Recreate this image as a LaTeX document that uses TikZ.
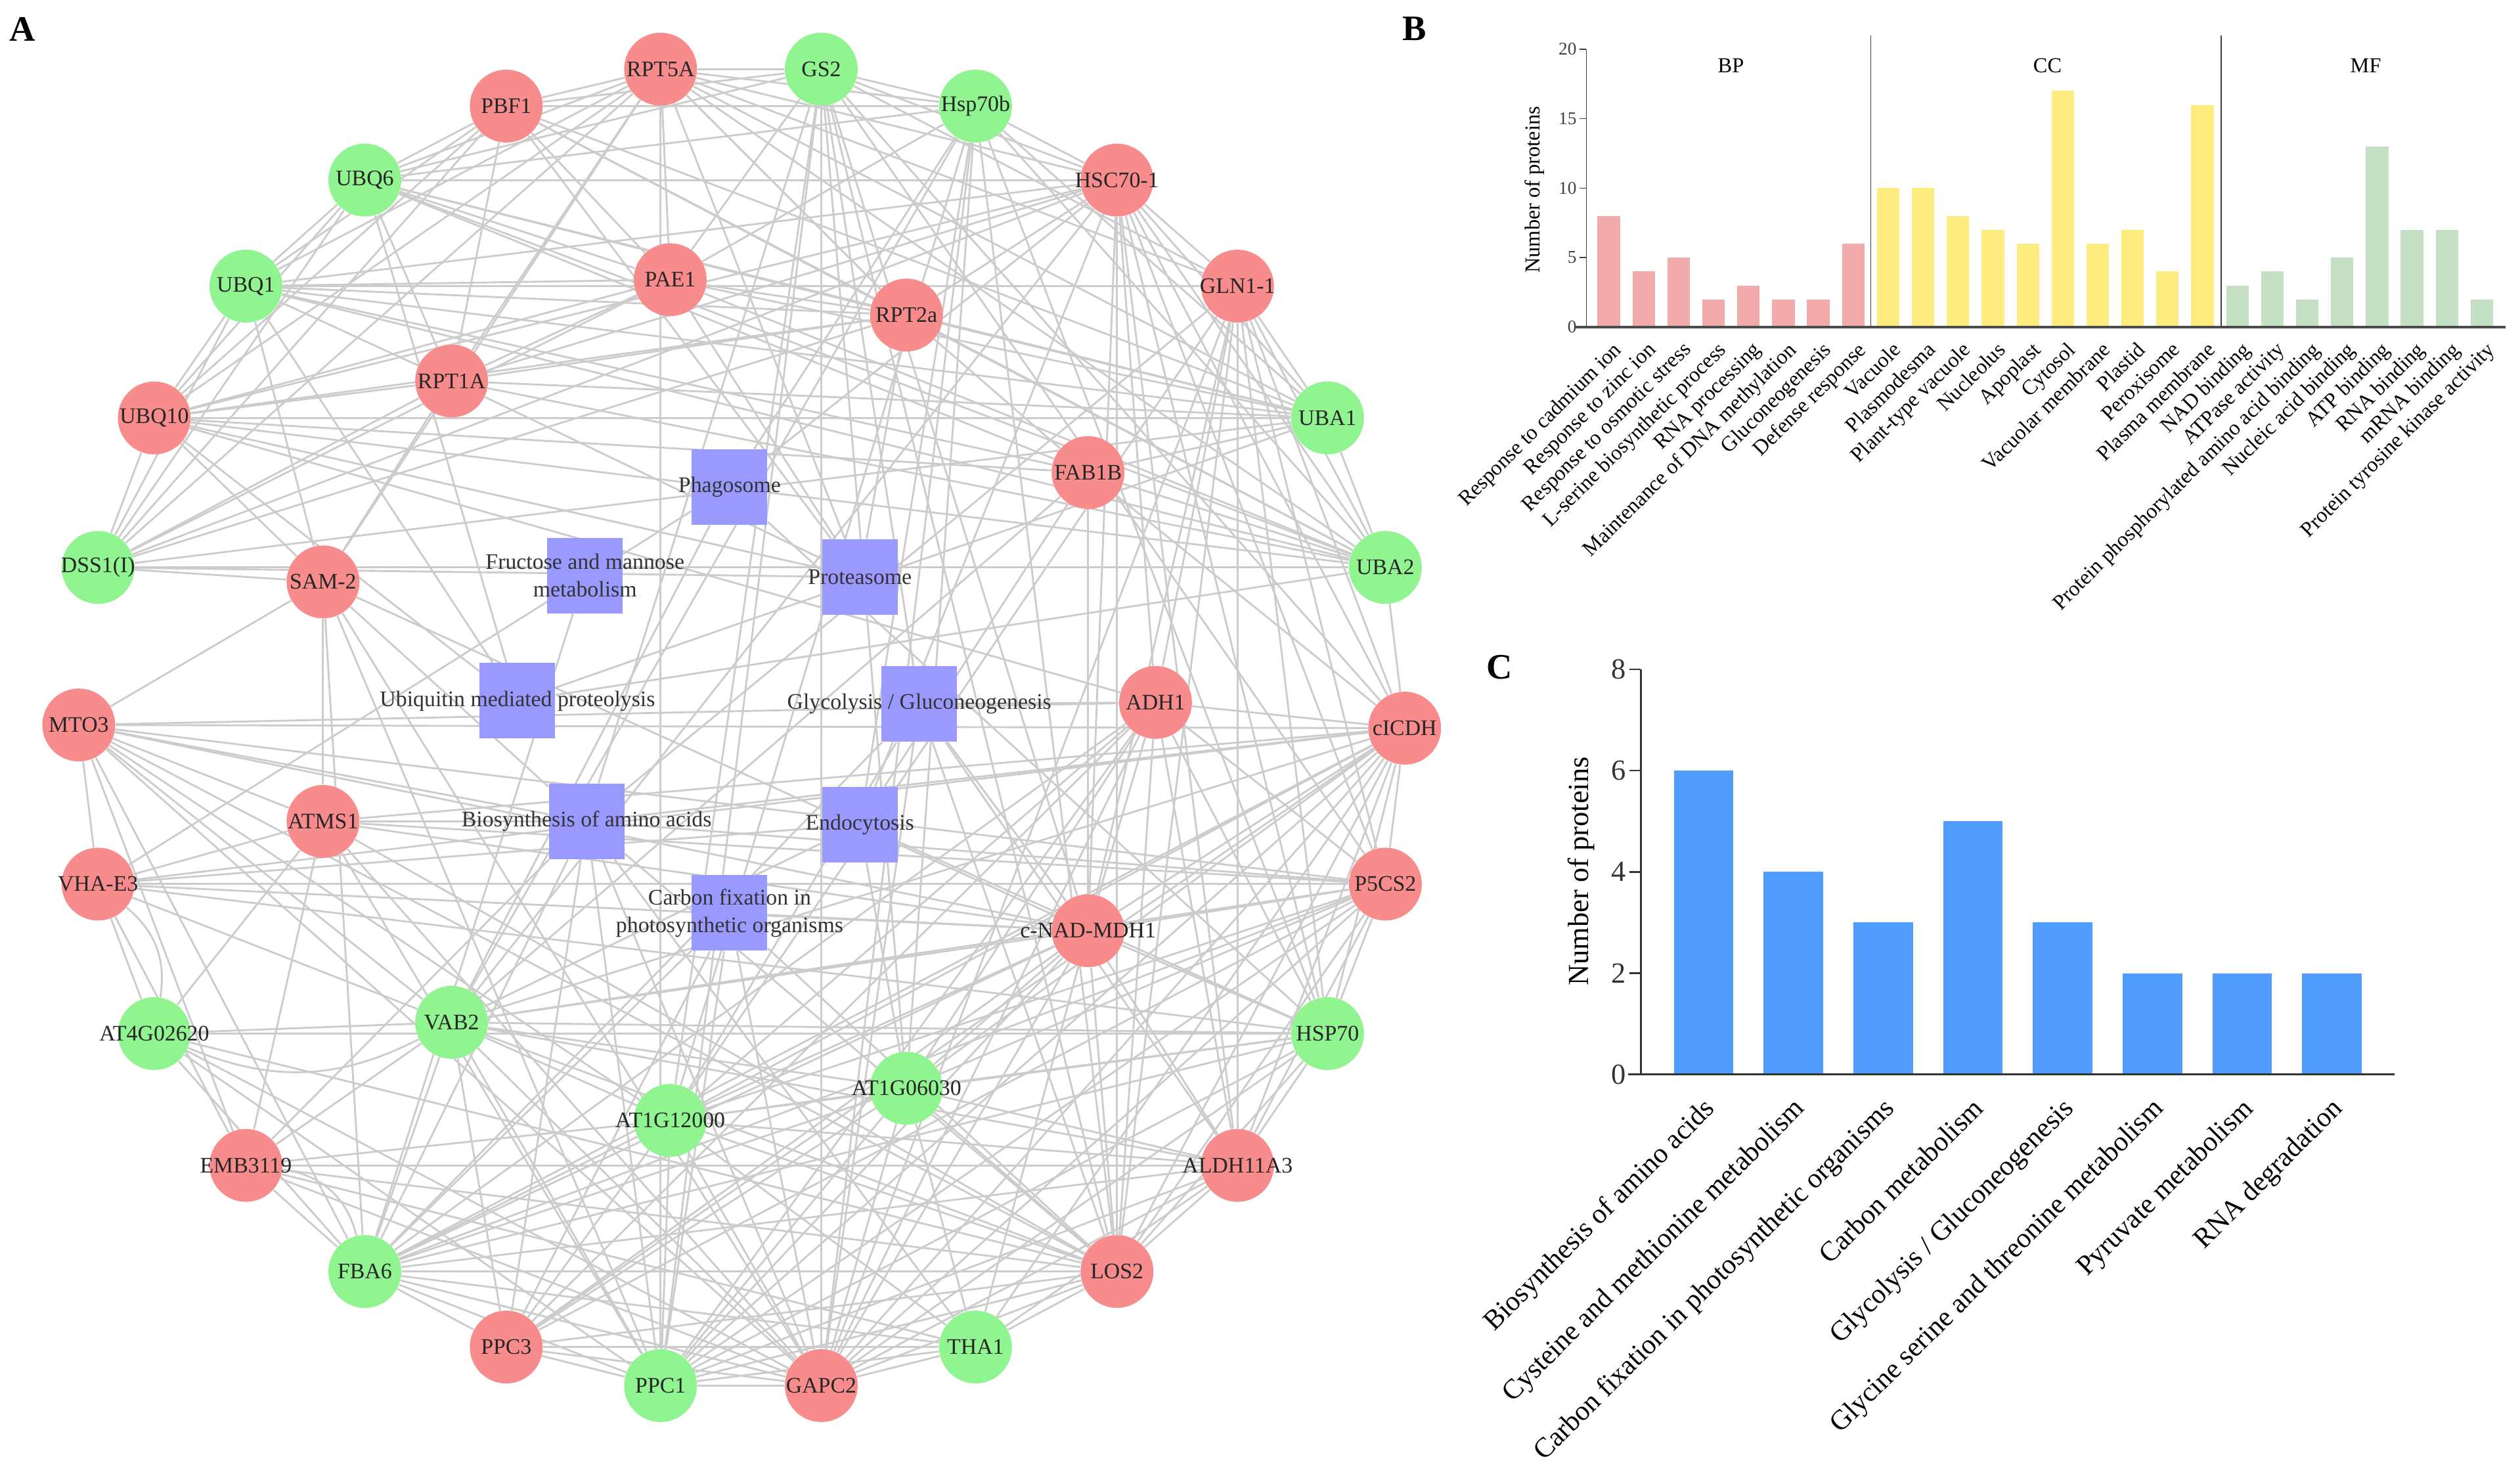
\documentclass[tikz,border=0pt]{standalone}
\usepackage{fontspec}
\setmainfont{Liberation Serif}
\usetikzlibrary{backgrounds}
\definecolor{upred}{RGB}{248,140,140}
\definecolor{downgreen}{RGB}{144,244,144}
\definecolor{keggsq}{RGB}{153,153,255}
\definecolor{linkgray}{RGB}{204,204,204}
\definecolor{bpred}{RGB}{243,170,170}
\definecolor{ccyellow}{RGB}{255,236,128}
\definecolor{mfgreen}{RGB}{197,224,197}
\definecolor{keggblue}{RGB}{80,156,255}

\begin{document}
\begin{tikzpicture}[x=0.03cm, y=-0.03cm,
    up/.style={circle, fill=upred, minimum size=1.36cm, inner sep=0pt, font=\fontsize{11.8}{13}\selectfont, text=black!85},
    down/.style={circle, fill=downgreen, minimum size=1.36cm, inner sep=0pt, font=\fontsize{11.8}{13}\selectfont, text=black!85},
    pathway/.style={rectangle, fill=keggsq, minimum size=1.41cm, inner sep=0pt},
    pwtext/.style={font=\fontsize{11.8}{14.5}\selectfont, text=black!80, align=center, inner sep=0pt},
    link/.style={draw=linkgray, line width=1pt},
    panel/.style={font=\fontsize{19}{19}\selectfont\bfseries, inner sep=0pt},
    golabel/.style={font=\fontsize{11.3}{12}\selectfont, rotate=45, anchor=north east, inner sep=1pt},
    gotick/.style={font=\fontsize{9.5}{10}\selectfont, left, inner sep=1.5pt},
    kegglabel/.style={font=\fontsize{14.8}{16}\selectfont, rotate=45, anchor=north east, inner sep=1pt},
    keggtick/.style={font=\fontsize{15.5}{16}\selectfont, left, inner sep=1.5pt}]
\useasboundingbox (0,0) rectangle (1568,918);

% ---- A: network ----
\node[panel] (labA) at (14,18) {A};
\foreach \nm/\px/\py/\txt/\kind in {
    rpta/411/43/RPT5A/up, gs/511/43/GS2/down, pbf/315/66/PBF1/up, hspb/607/66/Hsp70b/down,
    ubqs/227/112/UBQ6/down, hsc/695/112/HSC70-1/up, ubqa/153/178/UBQ1/down, gln/770/178/GLN1-1/up,
    pae/417/174/PAE1/up, rptb/564/196/RPT2a/up, rptc/281/237/RPT1A/up, fab/677/294/FAB1B/up,
    ubqx/96/260/UBQ10/up, ubaa/826/260/UBA1/down, dss/61/353/DSS1(I)/down, ubab/862/353/UBA2/down,
    sam/201/362/SAM-2/up, adh/719/437/ADH1/up, mto/49/451/MTO3/up, icdh/874/453/cICDH/up,
    atms/201/511/ATMS1/up, mdh/677/579/c-NAD-MDH1/up, vha/61/550/VHA-E3/up, pcs/862/550/P5CS2/up,
    atf/96/643/AT4G02620/down, hsp/826/643/HSP70/down, vab/281/636/VAB2/down, atsix/564/677/AT1G06030/down,
    attw/417/697/AT1G12000/down, emb/153/725/EMB3119/up, aldh/770/725/ALDH11A3/up,
    fba/227/791/FBA6/down, los/695/791/LOS2/up, ppct/315/838/PPC3/up, tha/607/838/THA1/down,
    ppco/411/862/PPC1/down, gapc/511/862/GAPC2/up}
    \node[\kind] (\nm) at (\px,\py) {\makebox[0pt]{\txt}};

\node[pathway, label={[pwtext]center:Phagosome}] (phago) at (454,303) {};
\node[pathway, label={[pwtext]center:Fructose and mannose\\metabolism}] (fruc) at (364,358) {};
\node[pathway, label={[pwtext]center:Proteasome}] (prot) at (535,359) {};
\node[pathway, label={[pwtext]center:Ubiquitin mediated proteolysis}] (ubiq) at (322,436) {};
\node[pathway, label={[pwtext]center:Glycolysis / Gluconeogenesis}] (glyc) at (572,438) {};
\node[pathway, label={[pwtext]center:Biosynthesis of amino acids}] (bios) at (365,511) {};
\node[pathway, label={[pwtext]center:Endocytosis}] (endo) at (535,513) {};
\node[pathway, label={[pwtext]center:Carbon fixation in\\photosynthetic organisms}] (carb) at (454,568) {};

\begin{scope}[on background layer]
\foreach \src/\dsts in {
    rpta/{pbf,ubqs,ubqa,ubqx,dss,pae,rptb,rptc,ubaa,ubab,gs,hspb,hsc,gln,sam,prot,ppco},
    pbf/{ubqs,ubqa,ubqx,dss,pae,rptb,rptc,ubaa,hspb,prot,gs,ubab},
    ubqs/{ubqa,ubqx,dss,pae,rptb,rptc,ubaa,ubab,hsc,gs,fab,ubiq,hspb},
    ubqa/{ubqx,dss,pae,rptb,rptc,ubaa,ubab,gln,hsc,fab,ubiq,sam},
    ubqx/{dss,pae,rptb,rptc,ubaa,ubab,sam,ubiq,fab,adh,hsc,prot},
    dss/{pae,rptb,rptc,ubab,ubaa,sam,prot,hsc},
    pae/{rptb,rptc,ubaa,ubab,prot,hspb,gs},
    rptb/{rptc,ubaa,ubab,prot,hsc,fab},
    rptc/{ubaa,ubab,prot,hsc,sam},
    ubaa/{ubab,ubiq,hsc,gln,hspb,fab},
    ubab/{ubiq,hsc,hspb,icdh},
    gs/{hspb,hsc,gln,bios,ppco,gapc,attw,atsix,mdh,los,icdh,pcs,glyc},
    hspb/{hsc,hsp,phago,endo,vab,atsix,los,gapc,attw},
    hsc/{hsp,phago,endo,gln,adh,mdh,aldh,los,icdh,vab,pcs},
    gln/{bios,pcs,icdh,mdh,gapc,attw,hsp,ubab,aldh,los,adh},
    fab/{endo,vab,ubab,mdh,icdh},
    sam/{mto,atms,bios,mdh,gapc,ppco,fba},
    mto/{atms,bios,vha,icdh,pcs,mdh,attw,vab,emb,gapc,los,fba,adh},
    atms/{bios,vha,icdh,mdh,pcs,gapc,los,atf,emb,ppco},
    vha/{atf,phago,endo,vab,mdh,emb,pcs,icdh,hsp},
    atf/{vab,ppco,gapc,fba,los,hsp},
    vab/{phago,endo,fba,emb,atsix,attw,gapc,ppco,ppct,los,mdh,hsp,aldh,icdh,pcs},
    emb/{fba,bios,gapc,los,aldh,attw,tha},
    fba/{fruc,glyc,bios,carb,ppct,ppco,gapc,los,tha,attw,atsix,mdh,aldh,adh,icdh,pcs,hsp},
    ppct/{carb,bios,ppco,gapc,tha,attw,atsix,mdh,los,pcs,icdh,adh},
    ppco/{carb,bios,gapc,tha,attw,atsix,mdh,los,aldh,icdh,pcs,adh,hsp},
    gapc/{glyc,carb,bios,tha,attw,atsix,mdh,los,aldh,icdh,pcs,adh,hsp},
    tha/{bios,attw,atsix,los,mdh,aldh,icdh},
    attw/{atsix,mdh,los,aldh,icdh,pcs,adh,hsp,glyc},
    atsix/{mdh,los,aldh,icdh,pcs,adh,hsp,endo},
    los/{glyc,bios,carb,mdh,aldh,icdh,pcs,adh,hsp},
    mdh/{carb,glyc,aldh,icdh,pcs,adh,hsp},
    aldh/{glyc,icdh,pcs,adh,hsp},
    adh/{glyc,icdh,pcs,hsp},
    icdh/{pcs,hsp,bios},
    pcs/{hsp,bios},
    hsp/{phago,endo}}
    \foreach \dst in \dsts
        \draw[link] (\src) -- (\dst);
\draw[link] (vha) to[bend left=30] (atf);
\draw[link] (atf) to[bend right=25] (vab);
\draw[link] (emb) to[bend left=35] (fba);
\end{scope}

% ---- B: GO terms ----
\node[panel] (labB) at (880,18) {B};
\foreach \i/\v/\col/\txt in {
    0/8/bpred/Response to cadmium ion, 1/4/bpred/Response to zinc ion,
    2/5/bpred/Response to osmotic stress, 3/2/bpred/L-serine biosynthetic process,
    4/3/bpred/RNA processing, 5/2/bpred/Maintenance of DNA methylation,
    6/2/bpred/Gluconeogenesis, 7/6/bpred/Defense response,
    8/10/ccyellow/Vacuole, 9/10/ccyellow/Plasmodesma, 10/8/ccyellow/Plant-type vacuole,
    11/7/ccyellow/Nucleolus, 12/6/ccyellow/Apoplast, 13/17/ccyellow/Cytosol,
    14/6/ccyellow/Vacuolar membrane, 15/7/ccyellow/Plastid, 16/4/ccyellow/Peroxisome,
    17/16/ccyellow/Plasma membrane,
    18/3/mfgreen/NAD binding, 19/4/mfgreen/ATPase activity,
    20/2/mfgreen/Protein phosphorylated amino acid binding, 21/5/mfgreen/Nucleic acid binding,
    22/13/mfgreen/ATP binding, 23/7/mfgreen/RNA binding, 24/7/mfgreen/mRNA binding,
    25/2/mfgreen/Protein tyrosine kinase activity} {
    \fill[\col] ({994+21.73*\i},203.5) rectangle ({1008+21.73*\i},{203.5-8.645*\v});
    \node[golabel] (go\i) at ({1003+21.73*\i},210) {\txt};
}
\draw[black!75, line width=0.5pt] (987,30.6) -- (987,203.5);
\foreach \t in {0,5,10,15,20}
    \draw[black!75, line width=0.5pt] (987,{203.5-8.645*\t}) -- (983,{203.5-8.645*\t}) node[gotick] (gt\t) {\t};
\draw[black!75, line width=0.5pt] (1164,22) -- (1164,203.5);
\draw[black!75, line width=0.5pt] (1382,22) -- (1382,203.5);
\draw[black!70, line width=1.5pt] (980,203.5) -- (1559,203.5);
\node[font=\fontsize{11.3}{12}\selectfont] (bp) at (1077,41) {BP};
\node[font=\fontsize{11.3}{12}\selectfont] (cc) at (1274,41) {CC};
\node[font=\fontsize{11.3}{12}\selectfont] (mf) at (1472,41) {MF};
\node[font=\fontsize{11.3}{12}\selectfont, rotate=90] (ytitleB) at (955,118) {Number of proteins};

% ---- C: KEGG pathways ----
\node[panel] (labC) at (933,415) {C};
\foreach \i/\v/\txt in {
    0/6/Biosynthesis of amino acids, 1/4/Cysteine and methionine metabolism,
    2/3/Carbon fixation in photosynthetic organisms, 3/5/Carbon metabolism,
    4/3/{Glycolysis / Gluconeogenesis}, 5/2/Glycine serine and threonine metabolism,
    6/2/Pyruvate metabolism, 7/2/RNA degradation} {
    \fill[keggblue] ({1041.5+55.85*\i},668.5) rectangle ({1078.5+55.85*\i},{668.5-31.52*\v});
    \node[kegglabel] (kg\i) at ({1059+55.85*\i},680) {\txt};
}
\draw[black!80, line width=0.8pt] (1021,416.3) -- (1021,668.5);
\foreach \t in {0,2,4,6,8}
    \draw[black!80, line width=0.8pt] (1021,{668.5-31.52*\t}) -- (1014,{668.5-31.52*\t}) node[keggtick] (kt\t) {\t};
\draw[black!80, line width=1pt] (1013,668.5) -- (1490,668.5);
\node[font=\fontsize{15.5}{16}\selectfont, rotate=90] (ytitleC) at (984,542) {Number of proteins};
\end{tikzpicture}
\end{document}
